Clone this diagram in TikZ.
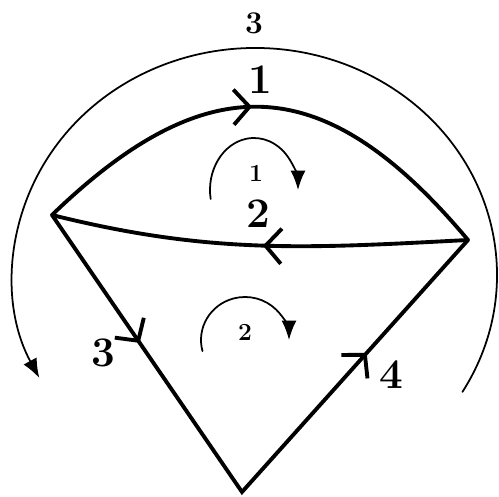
\documentclass[tikz,border=0pt]{standalone}
\usetikzlibrary{arrows.meta,decorations.markings}
\tikzset{barbtip/.tip={Straight Barb[length=9pt,width=20pt]}}
\begin{document}
\begin{tikzpicture}[x=1cm,y=1cm,line join=round,line cap=round,
  branch/.style={line width=2.2pt},
  meshloop/.style={line width=1pt,-{Latex[length=11pt,width=8.5pt]}},
  numlbl/.style={font=\fontsize{24}{26}\selectfont\bfseries},
  looplbl/.style={font=\fontsize{14}{16}\selectfont\bfseries},
  outerlbl/.style={font=\fontsize{18}{20}\selectfont\bfseries},
  barb/.style={postaction={decorate},decoration={markings,
    mark=at position #1 with {\arrow{barbtip}}}}]
  \useasboundingbox (0,0) rectangle (9.98,9.94);

  % ===== vertices =====
  \coordinate (L) at (1.04,5.64);
  \coordinate (R) at (9.36,5.14);
  \coordinate (B) at (4.84,0.10);

  % ===== branches =====
  \draw[branch,barb=0.47] (L) to[out=44,in=130,looseness=1.35] (R);   % branch 1
  \draw[branch,barb=0.49] (R) to[out=183,in=-14] (L);                 % branch 2
  \draw[branch,line join=miter,postaction={decorate},decoration={markings,
    mark=at position 0.23 with {\arrow{barbtip}},
    mark=at position 0.775 with {\arrow{barbtip}}}] (L) -- (B) -- (R); % branches 3 and 4

  % ===== mesh currents =====
  \coordinate (m1) at (5.08,6.14);
  \coordinate (m2) at (4.90,3.14);
  \coordinate (m3) at (5.10,4.44);
  \draw[meshloop] (m1) ++(190:0.88 and 1.04) arc[start angle=190,end angle=0,x radius=0.88,y radius=1.04];
  \draw[meshloop] (m2) ++(195:0.88 and 0.86) arc[start angle=195,end angle=0,x radius=0.88,y radius=0.86];
  \draw[meshloop] (m3) ++(-31:4.84 and 4.54) arc[start angle=-31,end angle=207,x radius=4.84,y radius=4.54];

  % ===== labels =====
  \node[outerlbl] (l3) at (5.08,9.48) {3};
  \node[numlbl] (b1) at (5.20,8.34) {1};
  \node[looplbl] (l1) at (5.12,6.48) {1};
  \node[numlbl] (b2) at (5.16,5.66) {2};
  \node[looplbl] (l2) at (4.90,3.30) {2};
  \node[numlbl] (b3) at (2.06,2.88) {3};
  \node[numlbl] (b4) at (7.82,2.44) {4};
\end{tikzpicture}
\end{document}
